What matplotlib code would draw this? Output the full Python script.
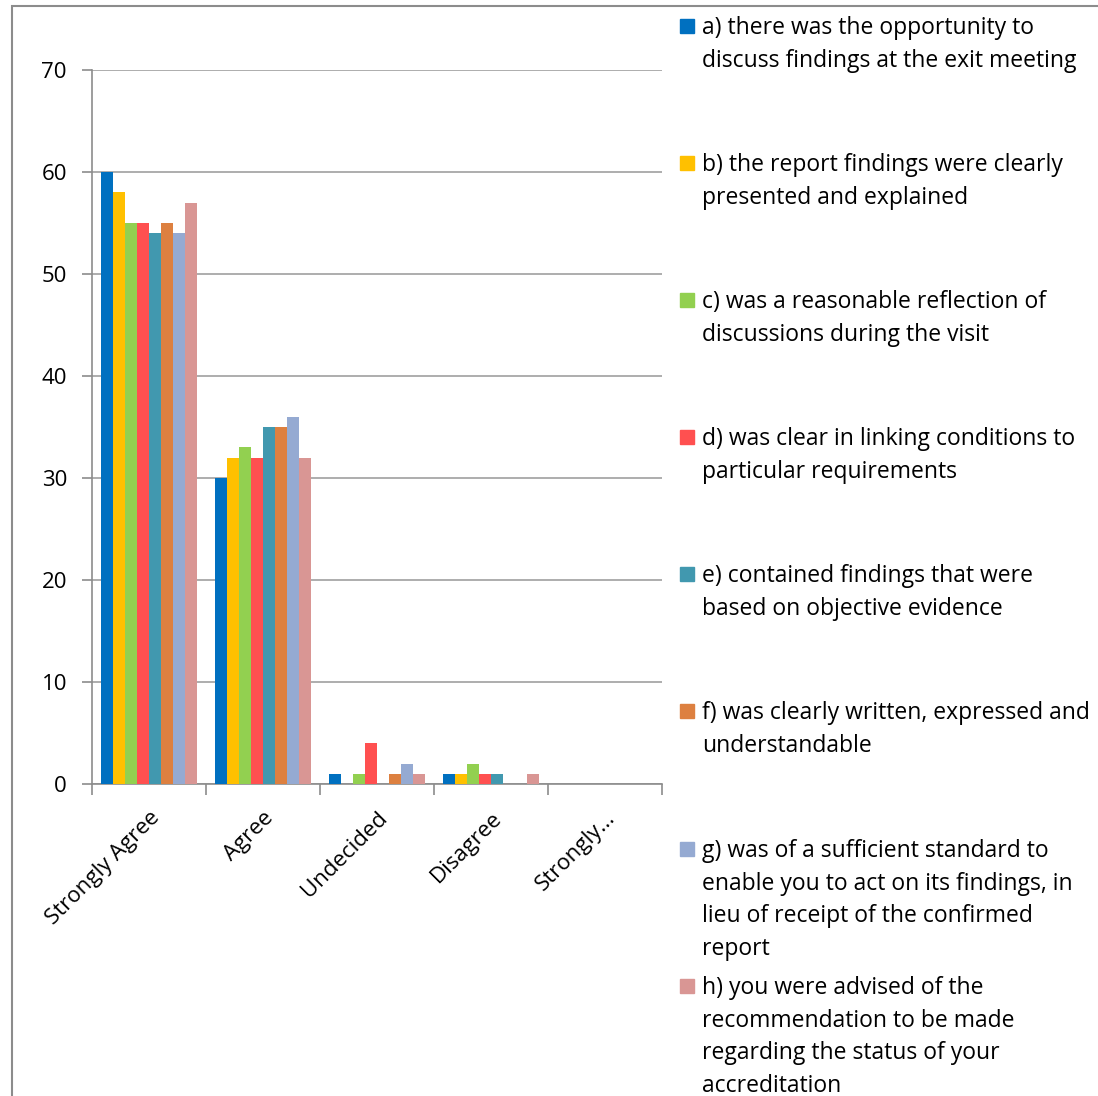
import matplotlib.pyplot as plt
import numpy as np
from matplotlib.patches import Rectangle

plt.rcParams['font.family'] = ['Open Sans', 'DejaVu Sans']

categories = ['Strongly Agree', 'Agree', 'Undecided', 'Disagree', 'Strongly...']
series_labels = [
    'a) there was the opportunity to\ndiscuss findings at the exit meeting',
    'b) the report findings were clearly\npresented and explained',
    'c) was a reasonable reflection of\ndiscussions during the visit',
    'd) was clear in linking conditions to\nparticular requirements',
    'e) contained findings that were\nbased on objective evidence',
    'f) was clearly written, expressed and\nunderstandable',
    'g) was of a sufficient standard to\nenable you to act on its findings, in\nlieu of receipt of the confirmed\nreport',
    'h) you were advised of the\nrecommendation to be made\nregarding the status of your\naccreditation',
]
a_vals = [60, 30, 1, 1, 0]
b_vals = [58, 32, 0, 1, 0]
c_vals = [55, 33, 1, 2, 0]
d_vals = [55, 32, 4, 1, 0]
e_vals = [54, 35, 0, 1, 0]
f_vals = [55, 35, 1, 0, 0]
g_vals = [54, 36, 2, 0, 0]
h_vals = [57, 32, 1, 1, 0]
values = [a_vals, b_vals, c_vals, d_vals, e_vals, f_vals, g_vals, h_vals]
colors = ['#0070C0', '#FFC000', '#92D050', '#FF5050', '#4198AF', '#DD8040', '#95AAD2', '#D99694']

W, H = 1098, 1096
fig = plt.figure(figsize=(W / 100, H / 100), dpi=100)
ax = fig.add_axes([92 / W, 1 - 784 / H, 570 / W, 714 / H])

n = len(values)
bw = 0.85 / n
x = np.arange(len(categories))
for i, (vals, col) in enumerate(zip(values, colors)):
    ax.bar(x - 0.425 + bw * (i + 0.5), vals, width=bw, color=col, zorder=3)

ax.set_xlim(-0.5, len(categories) - 0.5)
ax.set_ylim(0, 70)
ax.set_yticks(range(0, 71, 10))
ax.yaxis.grid(True, color='#A0A0A0', linewidth=1.2, zorder=0)
for s in ['top', 'right']:
    ax.spines[s].set_visible(False)
for s in ['left', 'bottom']:
    ax.spines[s].set_color('#8C8C8C')
    ax.spines[s].set_linewidth(1.2)
ax.set_xticks(x)
ax.set_xticklabels(categories, rotation=45, ha='right', va='top', rotation_mode='anchor')
ax.set_xticks(np.arange(-0.5, len(categories)), minor=True)
ax.tick_params(axis='x', which='major', length=0, labelsize=16, pad=17)
ax.tick_params(axis='x', which='minor', length=8, color='#8C8C8C', width=1.2)
ax.tick_params(axis='y', length=7, color='#8C8C8C', width=1.2, labelsize=16, pad=11)

# legend drawn by hand on the right
ys = [26, 163, 300, 437, 574, 711, 849, 986]
for lab, col, yy in zip(series_labels, colors, ys):
    fig.patches.append(Rectangle((680 / W, 1 - (yy + 7) / H), 14 / W, 14 / H,
                                 transform=fig.transFigure, color=col))
    fig.text(702 / W, 1 - (yy - 10) / H, lab, fontsize=16.5, va='top', ha='left',
             linespacing=1.48)

# chart border
fig.patches.append(Rectangle((12 / W, -0.01), 1.1, 1 - 6 / H + 0.01, transform=fig.transFigure,
                             fill=False, edgecolor='#8C8C8C', linewidth=1.5))

fig.savefig('out.png', dpi=100)
